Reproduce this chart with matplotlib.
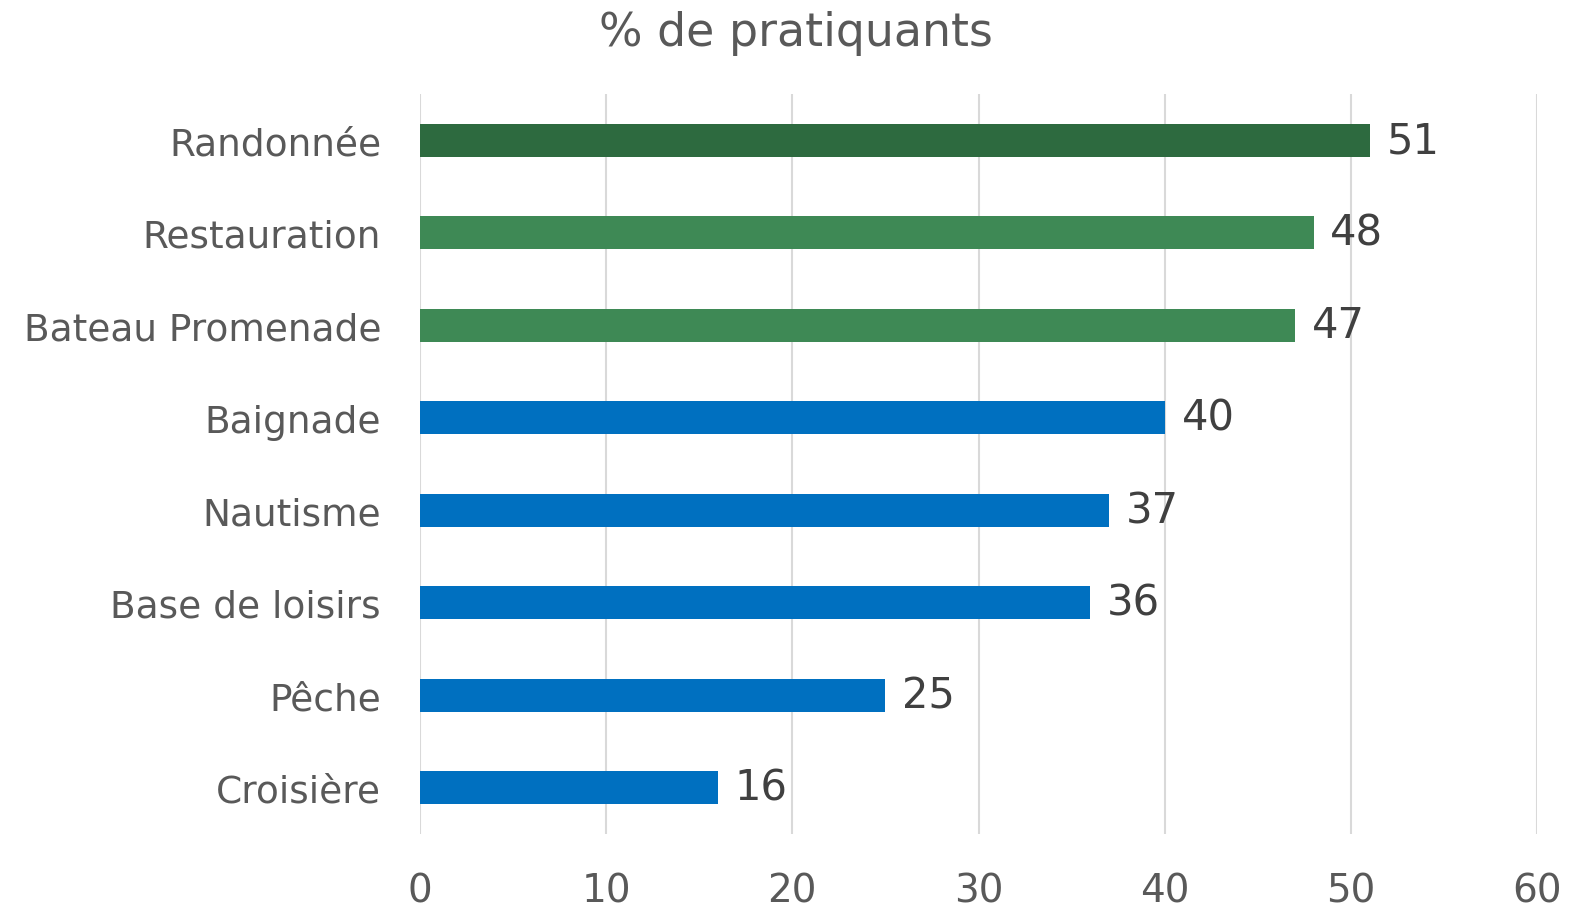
import matplotlib
matplotlib.use("Agg")
import matplotlib.pyplot as plt

# activities, top to bottom
activites = ['Randonnée', 'Restauration', 'Bateau Promenade', 'Baignade',
             'Nautisme', 'Base de loisirs', 'Pêche', 'Croisière']
pratiquants = [51, 48, 47, 40, 37, 36, 25, 16]
couleurs = ['#2D6A3F', '#3E8955', '#3E8955', '#0070C0',
            '#0070C0', '#0070C0', '#0070C0', '#0070C0']
ticks_x = [0, 10, 20, 30, 40, 50, 60]

plt.rcParams['font.family'] = ['DejaVu Sans']

fig = plt.figure(figsize=(15.76, 9.12), dpi=100)
ax = fig.add_axes([0.2665, 0.0844, 0.7088, 0.8114])

pos = list(range(len(activites)))
ax.barh(pos, pratiquants, height=0.36, color=couleurs, zorder=3)
ax.set_ylim(len(activites) - 0.5, -0.5)
ax.set_xlim(0, 60)

for p, v in zip(pos, pratiquants):
    ax.text(v + 0.9, p, str(v), va='center', ha='left',
            fontsize=30, color='#404040')

ax.set_xticks(ticks_x)
ax.set_xticklabels([str(t) for t in ticks_x])
ax.set_yticks(pos)
ax.set_yticklabels(activites)
ax.tick_params(axis='y', length=0, pad=28, labelsize=27, labelcolor='#595959')
ax.tick_params(axis='x', length=0, pad=27, labelsize=28, labelcolor='#595959')

ax.grid(axis='x', color='#D9D9D9', linewidth=1.5, zorder=0)
for s in ax.spines.values():
    s.set_visible(False)

fig.text(0.505, 0.963, '% de pratiquants', ha='center', va='center',
         fontsize=33, color='#595959')

fig.savefig('out.png', dpi=100)
